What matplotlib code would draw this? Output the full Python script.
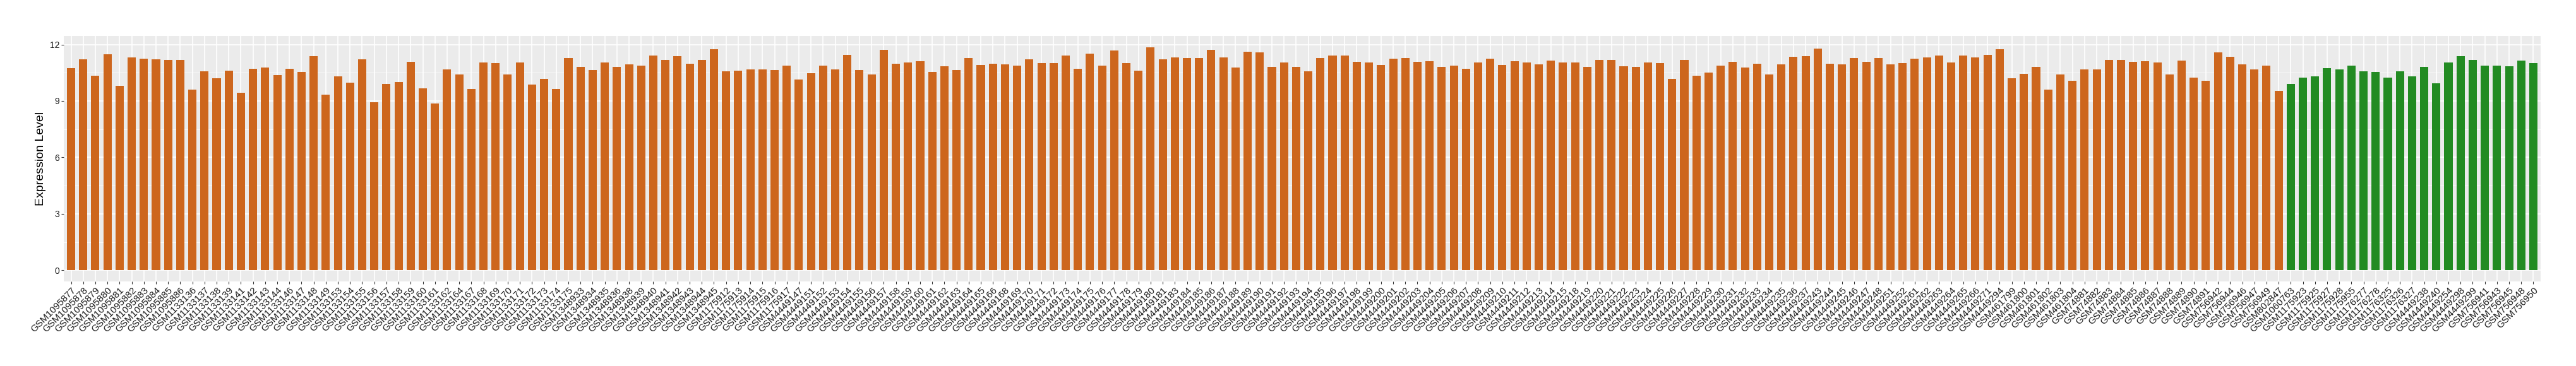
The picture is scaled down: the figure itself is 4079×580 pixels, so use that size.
import matplotlib
matplotlib.use("Agg")
import matplotlib.pyplot as plt
from matplotlib.ticker import MultipleLocator
import numpy as np

plt.rcParams['font.family'] = ['Liberation Sans', 'DejaVu Sans']

# sample names (tumour group first, normal group at the end)
tumor_samples = [
    "GSM1095877", "GSM1095878", "GSM1095879", "GSM1095880", "GSM1095881",
    "GSM1095882", "GSM1095883", "GSM1095884", "GSM1095885", "GSM1095886",
    "GSM1133136", "GSM1133137", "GSM1133138", "GSM1133139", "GSM1133141",
    "GSM1133142", "GSM1133143", "GSM1133144", "GSM1133146", "GSM1133147",
    "GSM1133148", "GSM1133149", "GSM1133153", "GSM1133154", "GSM1133155",
    "GSM1133156", "GSM1133157", "GSM1133158", "GSM1133159", "GSM1133160",
    "GSM1133161", "GSM1133162", "GSM1133164", "GSM1133167", "GSM1133168",
    "GSM1133169", "GSM1133170", "GSM1133171", "GSM1133172", "GSM1133173",
    "GSM1133174", "GSM1133175", "GSM1348933", "GSM1348934", "GSM1348935",
    "GSM1348936", "GSM1348938", "GSM1348939", "GSM1348940", "GSM1348941",
    "GSM1348942", "GSM1348943", "GSM1348944", "GSM1348945", "GSM1175912",
    "GSM1175913", "GSM1175914", "GSM1175915", "GSM1175916", "GSM1175917",
    "GSM4449147", "GSM4449151", "GSM4449152", "GSM4449153", "GSM4449154",
    "GSM4449155", "GSM4449156", "GSM4449157", "GSM4449158", "GSM4449159",
    "GSM4449160", "GSM4449161", "GSM4449162", "GSM4449163", "GSM4449164",
    "GSM4449165", "GSM4449166", "GSM4449168", "GSM4449169", "GSM4449170",
    "GSM4449171", "GSM4449172", "GSM4449173", "GSM4449174", "GSM4449175",
    "GSM4449176", "GSM4449177", "GSM4449178", "GSM4449179", "GSM4449180",
    "GSM4449181", "GSM4449183", "GSM4449184", "GSM4449185", "GSM4449186",
    "GSM4449187", "GSM4449188", "GSM4449189", "GSM4449190", "GSM4449191",
    "GSM4449192", "GSM4449193", "GSM4449194", "GSM4449195", "GSM4449196",
    "GSM4449197", "GSM4449198", "GSM4449199", "GSM4449200", "GSM4449201",
    "GSM4449202", "GSM4449203", "GSM4449204", "GSM4449205", "GSM4449206",
    "GSM4449207", "GSM4449208", "GSM4449209", "GSM4449210", "GSM4449211",
    "GSM4449212", "GSM4449213", "GSM4449214", "GSM4449215", "GSM4449218",
    "GSM4449219", "GSM4449220", "GSM4449221", "GSM4449222", "GSM4449223",
    "GSM4449224", "GSM4449225", "GSM4449226", "GSM4449227", "GSM4449228",
    "GSM4449229", "GSM4449230", "GSM4449231", "GSM4449232", "GSM4449233",
    "GSM4449234", "GSM4449235", "GSM4449236", "GSM4449237", "GSM4449243",
    "GSM4449244", "GSM4449245", "GSM4449246", "GSM4449247", "GSM4449248",
    "GSM4449251", "GSM4449252", "GSM4449261", "GSM4449262", "GSM4449263",
    "GSM4449264", "GSM4449265", "GSM4449266", "GSM4449271", "GSM4449294",
    "GSM461799", "GSM461800", "GSM461801", "GSM461802", "GSM461803",
    "GSM461804", "GSM74881", "GSM74882", "GSM74883", "GSM74884",
    "GSM74885", "GSM74886", "GSM74887", "GSM74888", "GSM74889",
    "GSM74890", "GSM74891", "GSM756942", "GSM756944", "GSM756946",
    "GSM756947", "GSM756949", "GSM802847",
]
normal_samples = [
    "GSM1060763", "GSM1175923", "GSM1175925", "GSM1175927", "GSM1175928",
    "GSM1175955", "GSM1176277", "GSM1176278", "GSM1176325", "GSM1176326",
    "GSM1176327", "GSM4449238", "GSM4449240", "GSM4449254", "GSM4449298",
    "GSM4449299", "GSM756941", "GSM756943", "GSM756945", "GSM756948",
    "GSM756950",
]

tumor_values = [
    10.75, 11.21, 10.35, 11.48, 9.82, 11.32, 11.25, 11.21, 11.19, 11.19,
    9.59, 10.58, 10.22, 10.62, 9.45, 10.72, 10.78, 10.38, 10.72, 10.55,
    11.39, 9.32, 10.31, 9.98, 11.21, 8.92, 9.91, 10.02, 11.09, 9.68,
    8.88, 10.69, 10.42, 9.64, 11.05, 11.02, 10.42, 11.05, 9.86, 10.18,
    9.64, 11.29, 10.82, 10.65, 11.05, 10.82, 10.96, 10.89, 11.41, 11.19,
    11.39, 10.98, 11.19, 11.75, 10.58, 10.62, 10.69, 10.69, 10.65, 10.89,
    10.15, 10.49, 10.89, 10.69, 11.45, 10.65, 10.42, 11.72, 10.98, 11.05,
    11.12, 10.55, 10.85, 10.65, 11.29, 10.92, 10.98, 10.96, 10.89, 11.21,
    11.02, 11.02, 11.41, 10.72, 11.52, 10.89, 11.68, 11.02, 10.62, 11.86,
    11.21, 11.32, 11.29, 11.29, 11.72, 11.32, 10.78, 11.63, 11.59, 10.82,
    11.05, 10.82, 10.58, 11.29, 11.41, 11.41, 11.09, 11.05, 10.92, 11.25,
    11.29, 11.09, 11.12, 10.82, 10.89, 10.72, 11.05, 11.25, 10.92, 11.12,
    11.05, 10.96, 11.16, 11.05, 11.05, 10.82, 11.19, 11.19, 10.85, 10.82,
    11.05, 11.02, 10.18, 11.19, 10.35, 10.52, 10.89, 11.09, 10.78, 10.98,
    10.42, 10.96, 11.36, 11.39, 11.79, 10.98, 10.96, 11.29, 11.09, 11.29,
    10.96, 11.02, 11.25, 11.32, 11.41, 11.05, 11.41, 11.32, 11.45, 11.75,
    10.22, 10.45, 10.82, 9.59, 10.42, 10.08, 10.69, 10.69, 11.19, 11.19,
    11.09, 11.12, 11.05, 10.42, 11.16, 10.25, 10.08, 11.59, 11.36, 10.96,
    10.69, 10.89, 9.52,
]
normal_values = [
    9.91, 10.25, 10.31, 10.75, 10.69, 10.89, 10.58, 10.55, 10.25, 10.58,
    10.31, 10.82, 9.95, 11.05, 11.39, 11.19, 10.89, 10.89, 10.85, 11.16,
    11.02,
]

samples = tumor_samples + normal_samples
values = tumor_values + normal_values
colors = ["#CD661D"] * len(tumor_values) + ["#228B22"] * len(normal_values)

fig = plt.figure(figsize=(40.8, 5.8), dpi=100)
ax = fig.add_axes([101 / 4080, 1 - 446 / 580, 3922 / 4080, 389 / 580])

x = np.arange(len(samples))
ax.bar(x, values, width=0.68, color=colors, zorder=3)

# ggplot-like grey panel
ax.set_facecolor("#EBEBEB")
for s in ax.spines.values():
    s.set_visible(False)
ax.set_axisbelow(True)
ax.yaxis.set_major_locator(MultipleLocator(3))
ax.yaxis.set_minor_locator(MultipleLocator(1.5))
ax.grid(which="major", axis="both", color="white", linewidth=1.2)
ax.grid(which="minor", axis="y", color="white", linewidth=0.6)

ymax = max(values)
ax.set_ylim(-0.05 * ymax, ymax * 1.05)
ax.set_xlim(-0.6, len(samples) - 0.4)

ax.set_xticks(x)
ax.set_xticklabels(samples, rotation=45, ha="right", va="top",
                   rotation_mode="anchor", fontsize=11, color="#1A1A1A")
ax.tick_params(axis="both", which="major", length=3, width=0.8,
               color="#333333", pad=2)
ax.tick_params(axis="y", which="major", labelsize=10, labelcolor="#1A1A1A")
ax.tick_params(axis="y", which="minor", length=0)

fig.text(65 / 4080, 1 - 251 / 580, "Expression Level", rotation=90,
         ha="center", va="center", fontsize=14)

fig.savefig("out.png", dpi=100)
